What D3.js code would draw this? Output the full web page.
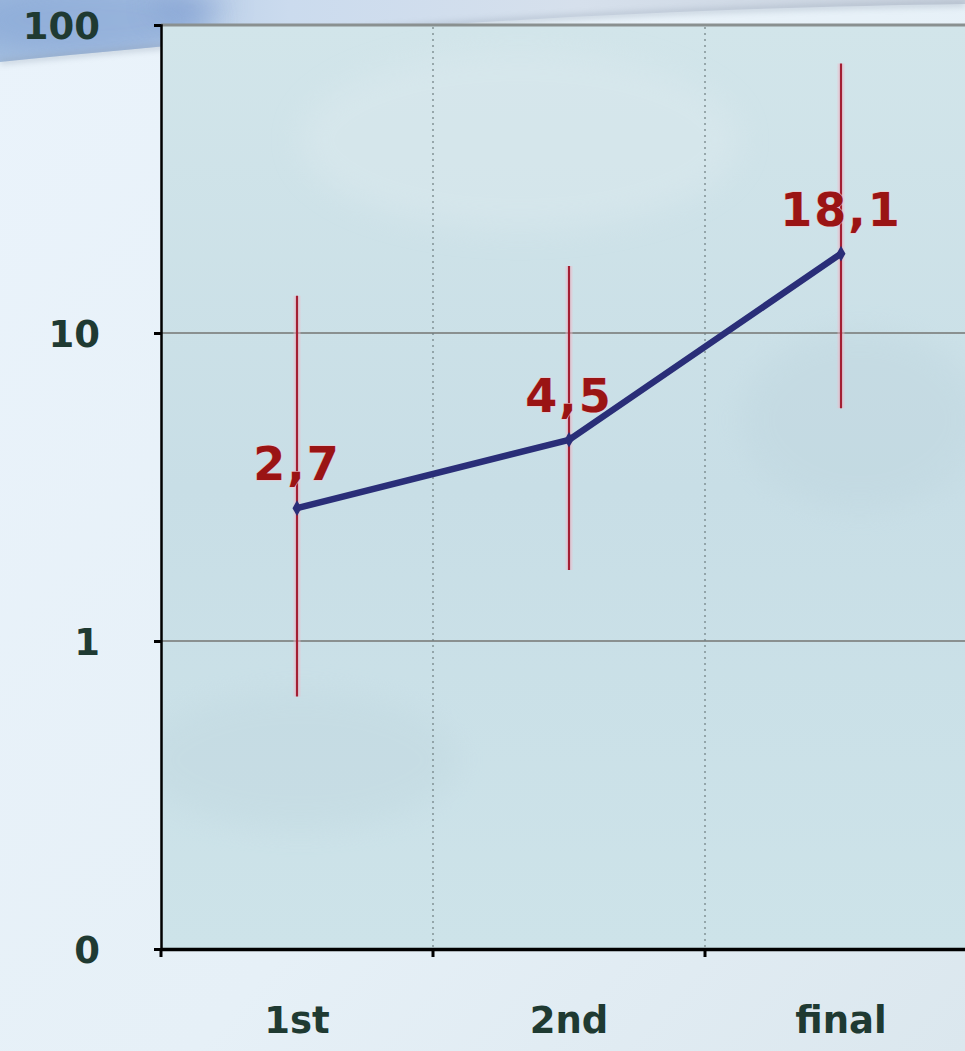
<!DOCTYPE html>
<html>
<head>
<meta charset="utf-8">
<script src="https://cdn.jsdelivr.net/npm/d3@7"></script>
<style>
  html, body { margin: 0; padding: 0; overflow: hidden; background: #e8f1f9; }
  svg { display: block; }
</style>
</head>
<body>
<svg id="chart" width="965" height="1051"></svg>
<script>
// Stages and odds ratios with their interval bounds
const stages = ["1st", "2nd", "final"];
const values = [2.7, 4.5, 18.1];
const lower = [0.66, 1.7, 5.7];
const upper = [13.2, 16.5, 75];
const valueLabels = ["2,7", "4,5", "18,1"];
const yTicks = [0.1, 1, 10, 100];
const yTickLabels = ["0", "1", "10", "100"];

const W = 965, H = 1051;
const margin = { left: 161, top: 25, right: -12, bottom: 102 };
const x0 = margin.left, x1 = W - margin.right;
const y0 = margin.top, y1 = H - margin.bottom;

const svg = d3.select("#chart");
const defs = svg.append("defs");

// ---- backdrop ----
const bg = defs.append("linearGradient").attr("id", "bg").attr("x1", 0).attr("y1", 0).attr("x2", 1).attr("y2", 1);
bg.append("stop").attr("offset", 0).attr("stop-color", "#eaf3fb");
bg.append("stop").attr("offset", 0.6).attr("stop-color", "#e6f0f7");
bg.append("stop").attr("offset", 1).attr("stop-color", "#dbe7ee");
svg.append("rect").attr("width", W).attr("height", H).attr("fill", "url(#bg)");

const blur = defs.append("filter").attr("id", "soft").attr("x", "-50%").attr("y", "-50%").attr("width", "200%").attr("height", "200%");
blur.append("feGaussianBlur").attr("stdDeviation", 14);
const blurS = defs.append("filter").attr("id", "softS").attr("x", "-50%").attr("y", "-50%").attr("width", "200%").attr("height", "200%");
blurS.append("feGaussianBlur").attr("stdDeviation", 3);

// top swoosh band
const sw = defs.append("linearGradient").attr("id", "swoosh").attr("x1", 0).attr("y1", 0).attr("x2", 1).attr("y2", 0);
sw.append("stop").attr("offset", 0).attr("stop-color", "#a4bfe0");
sw.append("stop").attr("offset", 0.3).attr("stop-color", "#cbdbee");
sw.append("stop").attr("offset", 0.6).attr("stop-color", "#d6e0ec");
sw.append("stop").attr("offset", 1).attr("stop-color", "#c8d1dd");
const bandClip = defs.append("clipPath").attr("id", "bandClip");
bandClip.append("path").attr("d", "M0,0 L965,0 L965,4 C700,8 420,20 0,62 Z");
svg.append("path")
  .attr("d", "M0,0 L965,0 L965,4 C700,8 420,20 0,62 Z")
  .attr("fill", "url(#swoosh)");
// bluish streaks in the corner, kept inside the band
const corner = svg.append("g").attr("clip-path", "url(#bandClip)");
corner.append("ellipse").attr("cx", 90).attr("cy", 20).attr("rx", 120).attr("ry", 40)
  .attr("fill", "#86a6d6").attr("opacity", 0.65).attr("filter", "url(#soft)");
corner.append("ellipse").attr("cx", 190).attr("cy", 6).attr("rx", 40).attr("ry", 16)
  .attr("fill", "#6d8cc8").attr("opacity", 0.35).attr("filter", "url(#soft)");
svg.append("path")
  .attr("d", "M0,62 C420,20 700,8 965,4")
  .attr("fill", "none").attr("stroke", "#8e9cae").attr("stroke-width", 4)
  .attr("opacity", 0.5).attr("filter", "url(#softS)");

// ---- plot area ----
const pa = defs.append("linearGradient").attr("id", "plotbg").attr("x1", 0).attr("y1", 0).attr("x2", 0).attr("y2", 1);
pa.append("stop").attr("offset", 0).attr("stop-color", "#d2e5ea");
pa.append("stop").attr("offset", 0.5).attr("stop-color", "#c8dee6");
pa.append("stop").attr("offset", 1).attr("stop-color", "#cde3e9");
svg.append("rect").attr("x", x0).attr("y", y0).attr("width", x1 - x0).attr("height", y1 - y0).attr("fill", "url(#plotbg)");
const clip = defs.append("clipPath").attr("id", "plotClip");
clip.append("rect").attr("x", x0).attr("y", y0).attr("width", x1 - x0).attr("height", y1 - y0);
const haze = svg.append("g").attr("clip-path", "url(#plotClip)");
haze.append("ellipse").attr("cx", 520).attr("cy", 140).attr("rx", 220).attr("ry", 90)
  .attr("fill", "#dbe9ee").attr("opacity", 0.5).attr("filter", "url(#soft)");
haze.append("ellipse").attr("cx", 300).attr("cy", 760).attr("rx", 160).attr("ry", 70)
  .attr("fill", "#c1d8e0").attr("opacity", 0.45).attr("filter", "url(#soft)");
haze.append("ellipse").attr("cx", 860).attr("cy", 420).attr("rx", 120).attr("ry", 90)
  .attr("fill", "#bfd6df").attr("opacity", 0.45).attr("filter", "url(#soft)");

// ---- scales ----
const x = d3.scaleBand().domain(stages).range([x0, x0 + 3 * 272]).paddingInner(0).paddingOuter(0);
const y = d3.scaleLog().domain([0.1, 100]).range([y1, y0]);
const cx = d => x(d) + x.bandwidth() / 2;

// horizontal grid lines
svg.append("g")
  .selectAll("line").data(yTicks.slice(1)).join("line")
  .attr("x1", x0).attr("x2", x1)
  .attr("y1", d => y(d)).attr("y2", d => y(d))
  .attr("stroke", "#8a9090").attr("stroke-width", d => d === 100 ? 3 : 2);

// vertical dotted separators between stages
svg.append("g")
  .selectAll("line").data(stages.slice(1)).join("line")
  .attr("x1", d => x(d)).attr("x2", d => x(d))
  .attr("y1", y0 + 2).attr("y2", y1)
  .attr("stroke", "#6f7e80").attr("stroke-width", 1.2).attr("stroke-dasharray", "2,4");

// ---- axes ----
const fontFam = "'Comic Sans MS', 'DejaVu Sans', sans-serif";
const yAxis = svg.append("g").attr("transform", `translate(${x0},0)`)
  .call(d3.axisLeft(y).tickValues(yTicks).tickFormat((d, i) => yTickLabels[i]).tickSize(7).tickPadding(54));
yAxis.select(".domain").attr("stroke", "#000").attr("stroke-width", 2.5);
yAxis.selectAll(".tick line").attr("stroke", "#000").attr("stroke-width", 3);
yAxis.selectAll(".tick text")
  .attr("font-family", fontFam).attr("font-size", 37).attr("font-weight", "bold")
  .attr("fill", "#1f3a32").attr("dy", "0.36em");

const xAxis = svg.append("g").attr("transform", `translate(0,${y1})`)
  .call(d3.axisBottom(x).tickSize(0).tickPadding(58));
xAxis.select(".domain").attr("stroke", "#000").attr("stroke-width", 3.5);
xAxis.selectAll(".tick text")
  .attr("font-family", fontFam).attr("font-size", 37).attr("font-weight", "bold")
  .attr("fill", "#1f3a32");
// ticks at category boundaries
svg.append("g").selectAll("line").data(stages).join("line")
  .attr("x1", d => x(d)).attr("x2", d => x(d))
  .attr("y1", y1).attr("y2", y1 + 8)
  .attr("stroke", "#000").attr("stroke-width", 3);

// ---- interval bars ----
const bars = svg.append("g");
bars.selectAll("line.halo").data(stages).join("line").attr("class", "halo")
  .attr("x1", cx).attr("x2", cx)
  .attr("y1", (d, i) => y(upper[i])).attr("y2", (d, i) => y(lower[i]))
  .attr("stroke", "#f2b9c9").attr("stroke-width", 7).attr("opacity", 0.45);
bars.selectAll("line.bar").data(stages).join("line").attr("class", "bar")
  .attr("x1", cx).attr("x2", cx)
  .attr("y1", (d, i) => y(upper[i])).attr("y2", (d, i) => y(lower[i]))
  .attr("stroke", "#a31f33").attr("stroke-width", 2.2);

// ---- trend line ----
const line = d3.line().x((d, i) => cx(stages[i])).y(d => y(d));
svg.append("path").datum(values)
  .attr("d", line)
  .attr("fill", "none").attr("stroke", "#2a2e78").attr("stroke-width", 6.5)
  .attr("stroke-linejoin", "round").attr("stroke-linecap", "round");
svg.append("g").selectAll("path").data(values).join("path")
  .attr("transform", (d, i) => `translate(${cx(stages[i])},${y(d)})`)
  .attr("d", d3.symbol(d3.symbolDiamond, 70))
  .attr("fill", "#2a2e78");

// ---- value labels ----
svg.append("g").selectAll("text").data(values).join("text")
  .attr("x", (d, i) => cx(stages[i]))
  .attr("y", d => y(d) - 28)
  .attr("text-anchor", "middle")
  .attr("font-family", fontFam).attr("font-size", 46).attr("font-weight", "bold")
  .attr("letter-spacing", 2)
  .attr("fill", "#9a1414")
  .attr("stroke", "#f0c4cc").attr("stroke-width", 1).attr("paint-order", "stroke")
  .text((d, i) => valueLabels[i]);
</script>
</body>
</html>
